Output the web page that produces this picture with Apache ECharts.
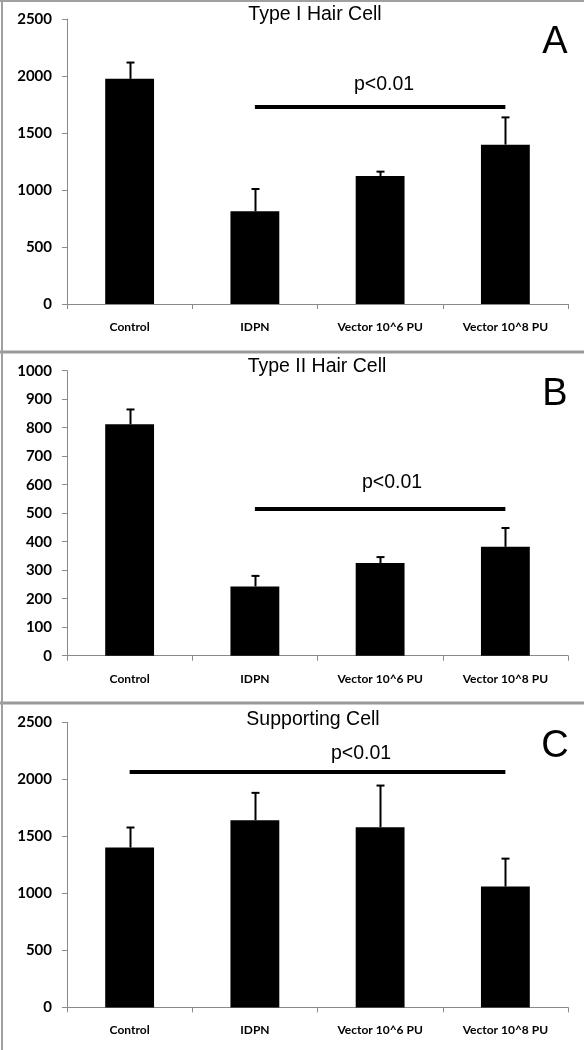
<!DOCTYPE html>
<html>
<head>
<meta charset="utf-8">
<script src="https://cdn.jsdelivr.net/npm/echarts@6/dist/echarts.min.js"></script>
<style>
html,body{margin:0;padding:0;background:#fff;}
#chart{width:584px;height:1050px;}
</style>
</head>
<body>
<div id="chart"></div>
<script>
// ---- data ----
const categories = ['Control', 'IDPN', 'Vector 10^6 PU', 'Vector 10^8 PU'];
const panelTitles = ['Type I Hair Cell', 'Type II Hair Cell', 'Supporting Cell'];
const panelLetters = ['A', 'B', 'C'];
const typeIMeans = [1975, 813, 1123, 1398];
const typeIErr = [143, 196, 38, 239];
const typeIIMeans = [812, 243, 325, 382];
const typeIIErr = [52, 37, 21, 66];
const supportMeans = [1402, 1642, 1581, 1060];
const supportErr = [176, 240, 365, 245];
const yMax = [2500, 1000, 2500];
const yStep = [500, 100, 500];
const sigLevel = [1731, 517, 2066];
const sigFrom = [1, 1, 0];
const sigTo = [3, 3, 3];
const sigText = 'p<0.01';

const means = [typeIMeans, typeIIMeans, supportMeans];
const errs = [typeIErr, typeIIErr, supportErr];

// ---- layout ----
const panelH = 351.7;
const gridTop = 19;
const gridH = 285;
const gridLeft = 67;
const gridRight = 16;

const chart = echarts.init(document.getElementById('chart'), null, {renderer: 'canvas'});

const axisGray = '#8a8a8a';
const grids = [], xAxes = [], yAxes = [], series = [], graphics = [];

for (let p = 0; p < 3; p++) {
  const off = p * panelH;
  grids.push({left: gridLeft, right: gridRight, top: gridTop + off, height: gridH, containLabel: false});
  xAxes.push({
    type: 'category', gridIndex: p, data: categories, boundaryGap: true,
    axisLine: {lineStyle: {color: axisGray, width: 1}},
    axisTick: {show: true, inside: false, length: 5, lineStyle: {color: axisGray}},
    axisLabel: {color: '#000', fontFamily: 'Lato', fontWeight: 'bold', fontSize: 12, margin: 17, interval: 0}
  });
  yAxes.push({
    type: 'value', gridIndex: p, min: 0, max: yMax[p], interval: yStep[p],
    axisLine: {show: true, lineStyle: {color: axisGray, width: 1}},
    axisTick: {show: true, inside: false, length: 5, lineStyle: {color: axisGray}},
    splitLine: {show: false},
    axisLabel: {color: '#000', fontFamily: 'Lato', fontWeight: 'bold', fontSize: 15, margin: 15,
      formatter: v => String(v)}
  });
  series.push({
    type: 'bar', xAxisIndex: p, yAxisIndex: p, data: means[p], barWidth: '39%',
    itemStyle: {color: '#000'}, silent: true,
    markLine: {
      silent: true, symbol: 'none', animation: false,
      lineStyle: {color: '#000', width: 4, type: 'solid'},
      label: {show: false},
      data: [[{coord: [sigFrom[p], sigLevel[p]]}, {coord: [sigTo[p], sigLevel[p]]}]]
    }
  });
  const errData = means[p].map((m, i) => [i, m, m + errs[p][i]]);
  series.push({
    type: 'custom', xAxisIndex: p, yAxisIndex: p, data: errData, silent: true, z: 3,
    renderItem: function (params, api) {
      const base = api.coord([api.value(0), api.value(1)]);
      const top = api.coord([api.value(0), api.value(2)]);
      const x = Math.round(base[0]) + 0.5;
      return {
        type: 'group',
        children: [
          {type: 'line', shape: {x1: x, y1: base[1], x2: x, y2: top[1]}, style: {stroke: '#000', lineWidth: 2}},
          {type: 'line', shape: {x1: x - 4, y1: top[1], x2: x + 4, y2: top[1]}, style: {stroke: '#000', lineWidth: 2}}
        ]
      };
    }
  });
}

// titles, letters, p-value text
const titleX = [315, 317, 313];
const titleY = [15, 15, 16];
const pTextX = [384, 392, 361];
const pTextY = [85, 131, 50];
for (let p = 0; p < 3; p++) {
  const off = p * panelH;
  graphics.push({type: 'text', x: titleX[p], y: off + titleY[p], style: {text: panelTitles[p], font: '19.5px "Liberation Sans", Arial, sans-serif', fill: '#000', textAlign: 'center', textVerticalAlign: 'middle'}, silent: true});
  graphics.push({type: 'text', x: 555, y: off + 43, style: {text: panelLetters[p], font: '38px "Liberation Sans", Arial, sans-serif', fill: '#000', textAlign: 'center', textVerticalAlign: 'middle'}, silent: true});
  graphics.push({type: 'text', x: pTextX[p], y: off + pTextY[p], style: {text: sigText, font: '19.5px "Liberation Sans", Arial, sans-serif', fill: '#000', textAlign: 'center', textVerticalAlign: 'middle'}, silent: true});
}

// panel frames
graphics.push({type: 'line', shape: {x1: 0, y1: 1, x2: 584, y2: 1}, style: {stroke: '#a0a0a0', lineWidth: 2}, silent: true});
graphics.push({type: 'line', shape: {x1: 0, y1: 352, x2: 584, y2: 352}, style: {stroke: '#9a9a9a', lineWidth: 3}, silent: true});
graphics.push({type: 'line', shape: {x1: 0, y1: 703, x2: 584, y2: 703}, style: {stroke: '#9a9a9a', lineWidth: 3}, silent: true});
graphics.push({type: 'line', shape: {x1: 2, y1: 0, x2: 2, y2: 1050}, style: {stroke: '#a0a0a0', lineWidth: 2}, silent: true});

chart.setOption({
  animation: false,
  backgroundColor: '#fff',
  grid: grids,
  xAxis: xAxes,
  yAxis: yAxes,
  series: series,
  graphic: graphics
});
</script>
</body>
</html>
